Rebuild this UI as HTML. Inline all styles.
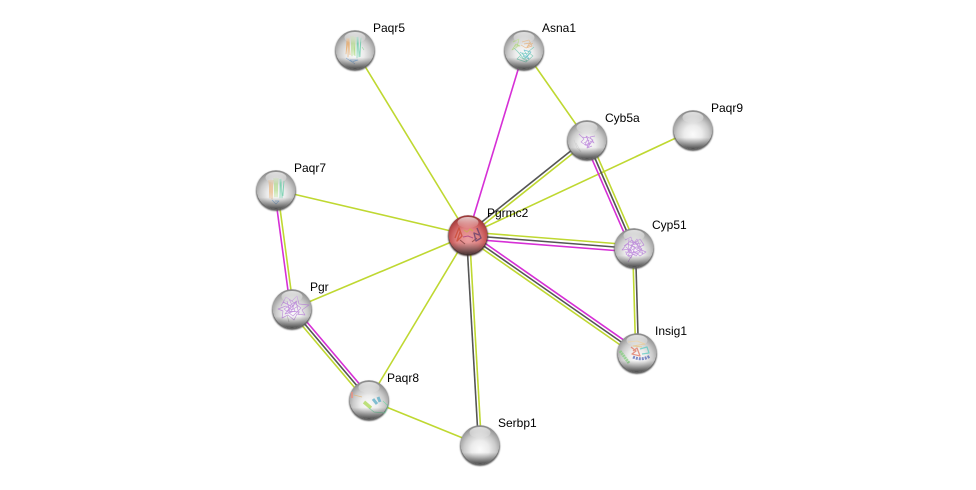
<!DOCTYPE html>
<html><head><meta charset="utf-8"><style>
html,body{margin:0;padding:0;background:#fff}
svg{display:block}
text{font-family:"Liberation Sans",sans-serif;font-size:12px;fill:#000}
.l{stroke:#bfd831;stroke-width:1.6;fill:none}
.d{stroke:#555;stroke-width:1.6;fill:none}
.m{stroke:#d62fd6;stroke-width:1.6;fill:none}
.p{fill:none;stroke-width:.7;stroke-linejoin:round}
.s{filter:url(#soft);opacity:.72}
</style></head><body>
<svg width="976" height="490" viewBox="0 0 976 490" xmlns="http://www.w3.org/2000/svg">
<defs>
<filter id="soft" x="-20%" y="-20%" width="140%" height="140%"><feGaussianBlur stdDeviation=".35"/></filter>
<filter id="sh" x="-20%" y="-20%" width="140%" height="140%"><feGaussianBlur stdDeviation=".8"/></filter>
<radialGradient id="g" cx="50%" cy="62%" r="60%">
<stop offset="0" stop-color="#fbfbfb"/><stop offset=".38" stop-color="#ececec"/><stop offset=".68" stop-color="#cbcbcb"/><stop offset=".88" stop-color="#a6a6a6"/><stop offset="1" stop-color="#8a8a8a"/>
</radialGradient>
<radialGradient id="r" cx="50%" cy="62%" r="60%">
<stop offset="0" stop-color="#eba0a0"/><stop offset=".5" stop-color="#df8080"/><stop offset=".8" stop-color="#c25252"/><stop offset="1" stop-color="#983838"/>
</radialGradient>
<linearGradient id="h" x1="0" y1="0" x2="0" y2="1">
<stop offset="0" stop-color="#fff" stop-opacity=".72"/><stop offset="1" stop-color="#fff" stop-opacity=".05"/>
</linearGradient>
<linearGradient id="b" x1="0" y1="0" x2="0" y2="1">
<stop offset=".7" stop-color="#444" stop-opacity="0"/><stop offset="1" stop-color="#2c2c2c" stop-opacity=".8"/>
</linearGradient>
<g id="base"><circle r="20" cy="1" fill="#5c5c5c" filter="url(#sh)"/><circle r="19.4" cy="-.3" fill="url(#g)"/></g>
<g id="baser"><circle r="20" cy="1" fill="#3c2a2a" filter="url(#sh)"/><circle r="19.4" cy="-.3" fill="url(#r)"/></g>
<g id="top"><ellipse cx="0" cy="-12.5" rx="10.5" ry="5.5" fill="url(#h)"/><circle r="19.4" cy="-.3" fill="url(#b)"/></g>
</defs>

<!-- edges -->
<line class="l" x1="355" y1="50" x2="468" y2="235"/>
<line class="m" x1="524" y1="50" x2="468" y2="235"/>
<line class="l" x1="524" y1="50" x2="587" y2="140"/>
<line class="l" x1="693" y1="130" x2="468" y2="235"/>
<line class="l" x1="276" y1="190" x2="468" y2="235"/>
<line class="l" x1="292" y1="309" x2="468" y2="235"/>
<line class="l" x1="369" y1="400" x2="468" y2="235"/>
<line class="l" x1="369" y1="400" x2="480" y2="445"/>

<line class="d" x1="467" y1="233.8" x2="586" y2="138.8"/>
<line class="l" x1="469" y1="236.2" x2="588" y2="141.2"/>

<line class="d" x1="466.5" y1="235" x2="478.5" y2="445"/>
<line class="l" x1="469.5" y1="235" x2="481.5" y2="445"/>

<line class="l" x1="632.7" y1="248" x2="635.7" y2="353"/>
<line class="d" x1="635.5" y1="248" x2="638.5" y2="353"/>

<line class="l" x1="468.2" y1="232" x2="634.2" y2="245"/>
<line class="d" x1="468" y1="235.5" x2="634" y2="248.5"/>
<line class="m" x1="467.8" y1="239" x2="633.8" y2="252"/>

<line class="m" x1="469.7" y1="232.5" x2="638.7" y2="350.5"/>
<line class="d" x1="468" y1="235" x2="637" y2="353"/>
<line class="l" x1="466.3" y1="237.5" x2="635.3" y2="355.5"/>

<line class="m" x1="584.2" y1="141.2" x2="631.2" y2="249.2"/>
<line class="d" x1="587" y1="140" x2="634" y2="248"/>
<line class="l" x1="589.8" y1="138.8" x2="636.8" y2="246.8"/>

<line class="m" x1="274.5" y1="190.2" x2="290.5" y2="309.2"/>
<line class="l" x1="277.5" y1="189.8" x2="293.5" y2="308.8"/>

<line class="m" x1="294.3" y1="307.1" x2="371.3" y2="398"/>
<line class="d" x1="292" y1="309" x2="369" y2="400"/>
<line class="l" x1="289.7" y1="310.9" x2="366.7" y2="401.9"/>

<!-- Paqr5 -->
<g transform="translate(355,50)"><use href="#base"/>
<g class="s"><path class="p" stroke="#e8a35a" d="M-8-12L-9 4L-7-11L-7 7L-6-12L-5 5"/><path class="p" stroke="#9ed56a" d="M-4-14L-3 6L-2-14L-1 5L0-13L0 6"/><path class="p" stroke="#58c9a0" d="M2-13L2 8L3-13L4 7L6-12L5 7"/><path class="p" stroke="#6fa5dc" d="M-9 8L-3 12L3 10L-5 10L0 14"/><path class="p" stroke="#8fd39a" d="M7-3L9 0"/></g>
<use href="#top"/></g>
<!-- Asna1 -->
<g transform="translate(524,50)"><use href="#base"/>
<g class="s"><path class="p" stroke="#5cc3a8" d="M-10-2L-3 5L-7 9L2 12L9 6L4 2L10-3M-6 2L0 9L5 4L-2 3L3 11L-4 7"/><path class="p" stroke="#e8a868" d="M-2-8L5-10L8-4L2-2L-3-5M0-6L6-7L3-3L9-7"/><path class="p" stroke="#a6d66a" d="M-11-8L-5-11L-7-3L-12 0L-8-6L-4-4L-10-4"/><path class="p" stroke="#48b6c2" d="M-4 2L3 7L7 2L0 0L5 9L-1 6"/></g>
<use href="#top"/></g>
<!-- Cyb5a -->
<g transform="translate(587,140)"><use href="#base"/>
<g class="s"><path class="p" stroke="#b070d6" d="M-8-6L-3-1L-6 2L0 6L4 1L7 3L3-3L8-4M-3 3L2 0L0 8L5 6M-5-3L1-2L-2 5L3 3L1 7L6 0L-1-4L2 2"/><path class="p" stroke="#ccc" d="M-13 0L-10 8L-6 12L-11 3"/></g>
<use href="#top"/></g>
<!-- Paqr9 -->
<g transform="translate(693,130)"><use href="#base"/><use href="#top"/></g>
<!-- Paqr7 -->
<g transform="translate(276,190)"><use href="#base"/>
<g class="s"><path class="p" stroke="#e8a35a" d="M-7-10L-6 8L-5-10L-4 9L-3-10"/><path class="p" stroke="#9ed56a" d="M-2-12L-1 7L0-12L1 7L2-12"/><path class="p" stroke="#58c9a0" d="M4-11L4 8L5-11L6 8L8-9L7 6"/><path class="p" stroke="#6fa5dc" d="M-4 10L0 14L3 11L-1 11"/></g>
<use href="#top"/></g>
<!-- Cyp51 -->
<g transform="translate(634,248)"><use href="#base"/>
<g class="s"><path class="p" stroke="#b070d6" d="M-9-8L-3-11L-1-4L6-9L10-3L3 0L12 4L6 8L0 3L-3 10L-8 6L-3 1L-12 2L-7-4L1-1L-2 7L-6 14M-4-6L3-5L6 2L-1 5L-8-1M-10-2L-2-8L4-2L-5 4L2 8L8 1L0-6L-6 8L5 5L-9 4M-5-9L-6 3L3-9L9 6L-3-3L7-5"/></g>
<use href="#top"/></g>
<!-- Pgr -->
<g transform="translate(292,309)"><use href="#base"/>
<g class="s"><path class="p" stroke="#b070d6" d="M-11-3L-6-12L0-8L5-13L7-5L17-4L10 1L13 6L5 5L2 11L-4 6L-10 9L-9 2L-14 0L-6-3L0 1L6-3M-5-8L-2 4L4-8L7 6M-9-7L-1-3L-7 5L3 2L-3-10L9-1L1 7L-8 0L5-8L-4 2L8 3"/><path class="p" stroke="#aaa" d="M-5 6L-3 13"/></g>
<use href="#top"/></g>
<!-- Insig1 -->
<g transform="translate(637,353)"><use href="#base"/>
<g class="s"><path d="M-4 4Q5 8 13 3" fill="none" stroke="#4f62b5" stroke-width="3" stroke-dasharray="2 1"/><path class="p" stroke="#7fd07a" style="stroke-width:3" stroke-dasharray="2 .6" d="M-17-2L-8 10"/><path class="p" stroke="#e0705a" style="stroke-width:1.3" d="M-6-6L-1-2L-5 1L3 3L0-5L-4-2"/><path class="p" stroke="#e7c07a" style="stroke-width:1" d="M-9-11L0-12L8-9L-4-7L5-6"/><path class="p" stroke="#58c9c0" style="stroke-width:1.2" d="M3-4L10-6L12 0L5 1"/></g>
<use href="#top"/></g>
<!-- Paqr8 -->
<g transform="translate(369,400)"><use href="#base"/>
<g class="s"><path class="p" stroke="#ef8f80" style="stroke-width:2" d="M-17-8L-17-2"/><path class="p" stroke="#e2b26a" d="M-15-5L-7-3"/><path d="M-5 2L2 8" stroke="#a8d84e" stroke-width="3.5" fill="none"/><path d="M4-1L8 4M9-3L11 2" stroke="#55aac5" stroke-width="3" fill="none"/><path class="p" stroke="#5fdc9c" d="M0 8L5 12L16 13L19 6L14 1"/></g>
<use href="#top"/></g>
<!-- Serbp1 -->
<g transform="translate(480,445)"><use href="#base"/><use href="#top"/></g>
<!-- Pgrmc2 -->
<g transform="translate(468,235)"><use href="#baser"/>
<g class="s"><path class="p" stroke="#c9462e" style="stroke-width:1.4" d="M-13 3L-9-7L-6 1L-11 6L-8-3"/><path class="p" stroke="#7a3a3a" style="stroke-width:1.1" d="M-8 5L-3 9M4 7L9 3"/><path class="p" stroke="#5a3a6a" style="stroke-width:1.4" d="M9-7L13 3L8 6L6-2L11 0"/><path class="p" stroke="#c8b04a" style="stroke-width:1.1" d="M-4-5L-1-3L2-6L5-4"/><path class="p" stroke="#a53a80" style="stroke-width:1.1" d="M-5 2L0 1L5 3"/></g>
<use href="#top"/></g>

<text x="373" y="32">Paqr5</text>
<text x="542" y="32">Asna1</text>
<text x="605" y="122">Cyb5a</text>
<text x="711" y="112">Paqr9</text>
<text x="294" y="172">Paqr7</text>
<text x="487" y="217">Pgrmc2</text>
<text x="652" y="229">Cyp51</text>
<text x="310" y="291">Pgr</text>
<text x="655" y="335">Insig1</text>
<text x="387" y="382">Paqr8</text>
<text x="498" y="427">Serbp1</text>
</svg>
</body></html>
